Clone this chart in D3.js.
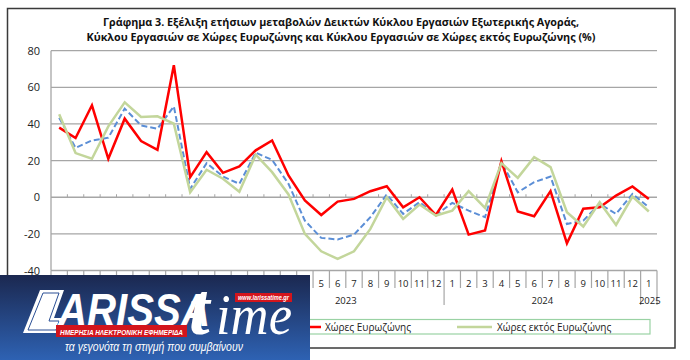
<!DOCTYPE html>
<html><head><meta charset="utf-8">
<script src="https://cdn.jsdelivr.net/npm/d3@7"></script>
<style>html,body{margin:0;padding:0;background:#fff;}svg{display:block;}</style>
</head><body>
<svg id="chart" width="690" height="360"></svg>
<script>
// ---- data ----
const monthLabels = ["1","2","3","4","5","6","7","8","9","10","11","12",
                     "1","2","3","4","5","6","7","8","9","10","11","12",
                     "1","2","3","4","5","6","7","8","9","10","11","12",
                     "1"];
const yearOfCat = [2022,2022,2022,2022,2022,2022,2022,2022,2022,2022,2022,2022,
                   2023,2023,2023,2023,2023,2023,2023,2023,2023,2023,2023,2023,
                   2024,2024,2024,2024,2024,2024,2024,2024,2024,2024,2024,2024,
                   2025];
const yearLabels = ["2022","2023","2024","2025"];
const yTicks = [-40,-20,0,20,40,60,80];
const seriesTotal = [43.4,27.0,31.0,32.5,48.4,39.2,37.4,49.6,4.6,18.6,11.3,7.3,
                     24.3,20.4,7.3,-12.8,-22.2,-23.1,-20.4,-10.9,1.5,-9.1,-2.7,-9.7,
                     -3.1,-7.3,-10.9,19.2,2.7,8.2,11.3,-14.6,-12.8,-3.6,-9.1,1.8,-5.5];
const seriesEuro = [38.0,32.3,50.2,21.0,42.9,30.7,25.9,72.1,11.0,24.6,13.3,16.8,
                    25.6,31.0,11.9,-1.8,-9.7,-2.4,-0.9,3.3,6.0,-5.5,0.0,-9.7,
                    4.2,-20.4,-18.2,19.7,-7.8,-10.4,3.3,-25.2,-6.3,-5.5,0.9,5.9,-0.9];
const seriesNonEuro = [45.3,24.1,21.0,38.7,51.8,43.8,44.2,40.2,2.7,15.0,10.1,3.0,
                       23.2,13.7,1.5,-20.0,-29.5,-33.7,-29.5,-17.3,0.0,-11.8,-4.0,-10.0,
                       -7.3,3.3,-5.8,18.6,10.6,21.9,16.4,-8.2,-16.0,-2.7,-15.1,0.4,-7.8];
const legendNames = ["Χώρες Ευρωζώνης","Χώρες εκτός Ευρωζώνης"];
const titleLines = ["Γράφημα 3. Εξέλιξη  ετήσιων μεταβολών Δεικτών Κύκλου Εργασιών Εξωτερικής Αγοράς,",
                    "Κύκλου Εργασιών σε Χώρες Ευρωζώνης και Κύκλου Εργασιών σε Χώρες εκτός Ευρωζώνης (%)"];

const svg = d3.select("#chart");
const font = "'Open Sans','Noto Sans','Liberation Sans',sans-serif";
const LOGO_RIGHT = 312; // overlay banner covers the lower-left corner

// outer frame
svg.append("rect").attr("x",7.5).attr("y",8.5).attr("width",667.5).attr("height",339.5)
  .attr("fill","#fff").attr("stroke","#3a3a3a").attr("stroke-width",1.5);

// title
const titleSpec = [{y:25.5,len:476},{y:40.5,len:509}];
titleLines.forEach((t,i)=>{
  svg.append("text").attr("x",341).attr("y",titleSpec[i].y).attr("text-anchor","middle")
    .attr("font-family",font).attr("font-weight","bold").attr("font-size","11px")
    .attr("fill","#111").attr("textLength",titleSpec[i].len).attr("lengthAdjust","spacingAndGlyphs")
    .text(t);
});

// scales
const cats = monthLabels.map((m,i)=>i);
const x = d3.scaleBand().domain(cats).range([51,657]).paddingInner(0).paddingOuter(0);
const y = d3.scaleLinear().domain([-40,80]).range([270.5,50.7]);
const cx = i => x(i) + x.bandwidth()/2;

// gridlines
svg.append("g").selectAll("line").data(yTicks).join("line")
  .attr("x1",51).attr("x2",657).attr("y1",d=>y(d)).attr("y2",d=>y(d))
  .attr("stroke","#a6a6a6").attr("stroke-width",1.3);

// left axis line
svg.append("line").attr("x1",51).attr("x2",51).attr("y1",y(80)).attr("y2",y(-40))
  .attr("stroke","#a6a6a6").attr("stroke-width",1.3);

// y labels
svg.append("g").selectAll("text").data(yTicks).join("text")
  .attr("x",40).attr("y",d=>y(d)+4).attr("text-anchor","end")
  .attr("font-family",font).attr("font-size","11px").attr("fill","#222")
  .text(d=>d);

// tick marks on zero line
const bounds = d3.range(cats.length+1).map(i=> i<cats.length ? x(i) : x(cats.length-1)+x.bandwidth());
svg.append("g").selectAll("line").data(bounds.slice(1,-1)).join("line")
  .attr("x1",d=>d).attr("x2",d=>d).attr("y1",y(0)-3).attr("y2",y(0))
  .attr("stroke","#a6a6a6").attr("stroke-width",1);

// category separator lines below plot
const yearStart = i => i===0 || yearOfCat[i]!==yearOfCat[i-1];
svg.append("g").selectAll("line").data(bounds).join("line")
  .attr("x1",d=>d).attr("x2",d=>d).attr("y1",y(-40))
  .attr("y2",(d,i)=> (i===0 || i===cats.length || yearStart(i)) ? 305 : 288)
  .attr("stroke","#a6a6a6").attr("stroke-width",1.2);

// month labels (those under the overlay banner are not visible in the reference)
svg.append("g").selectAll("text").data(cats.filter(i=>x(i) >= LOGO_RIGHT)).join("text")
  .attr("x",d=>cx(d)).attr("y",287).attr("text-anchor","middle")
  .attr("font-family",font).attr("font-size","9.5px").attr("fill","#222")
  .text(d=>monthLabels[d]);

// year labels
yearLabels.forEach(yr=>{
  const idx = cats.filter(i=>String(yearOfCat[i])===yr);
  const x0 = x(idx[0]), x1 = x(idx[idx.length-1])+x.bandwidth();
  const mid = (x0+x1)/2 + (idx.length===1?1:0);
  if (mid < LOGO_RIGHT) return;
  svg.append("text").attr("x",mid).attr("y",303.5).attr("text-anchor","middle")
    .attr("font-family",font).attr("font-size","9.5px").attr("fill","#222").text(yr);
});

// lines
const line = d3.line().x((d,i)=>cx(i)).y(d=>y(d));
svg.append("path").datum(seriesTotal).attr("d",line).attr("fill","none")
  .attr("stroke","#5b8ed6").attr("stroke-width",2).attr("stroke-dasharray","6,3");
svg.append("path").datum(seriesEuro).attr("d",line).attr("fill","none")
  .attr("stroke","#ff0000").attr("stroke-width",2.5).attr("stroke-linejoin","miter");
svg.append("path").datum(seriesNonEuro).attr("d",line).attr("fill","none")
  .attr("stroke","#c3d69b").attr("stroke-width",2.5);

// legend
svg.append("rect").attr("x",40.5).attr("y",319.5).attr("width",609.5).attr("height",14.5)
  .attr("fill","#fff").attr("stroke","#9ad2a4").attr("stroke-width",1.2);
const legItems = [{x1:286,x2:321,tx:325,color:"#ff0000"},{x1:457,x2:492,tx:497,color:"#c3d69b"}];
legItems.forEach((it,i)=>{
  svg.append("line").attr("x1",it.x1).attr("x2",it.x2).attr("y1",327).attr("y2",327)
    .attr("stroke",it.color).attr("stroke-width",2.5);
  svg.append("text").attr("x",it.tx).attr("y",330.5).attr("font-family",font)
    .attr("font-size","10px").attr("fill","#222").text(legendNames[i]);
});

// ---- overlay logo ----
const defs = svg.append("defs");
const grad = defs.append("linearGradient").attr("id","lg").attr("x1",0).attr("y1",0).attr("x2",0).attr("y2",1);
grad.append("stop").attr("offset","0%").attr("stop-color","#1b2850");
grad.append("stop").attr("offset","100%").attr("stop-color","#2e62b3");
const logo = svg.append("g");
logo.append("rect").attr("x",0).attr("y",275).attr("width",310).attr("height",85).attr("fill","url(#lg)");
// L shape
logo.append("polygon").attr("points","40,290 64,290 54,318 63,318 58,333 23,333").attr("fill","#fff");
logo.append("polygon").attr("points","43,293 59,293 49,321 59,321 56,330 28,330")
  .attr("fill","none").attr("stroke","#2a4f95").attr("stroke-width",1);
logo.append("text").attr("x",58).attr("y",326).attr("font-family","'Liberation Sans',Arial,sans-serif")
  .attr("font-weight","bold").attr("font-style","italic").attr("font-size","46px").attr("fill","#fff")
  .attr("textLength",152).attr("lengthAdjust","spacingAndGlyphs").text("ARISSA");
// red banner
logo.append("rect").attr("x",56).attr("y",325).attr("width",131).attr("height",12).attr("fill","#d3151c");
logo.append("text").attr("x",60).attr("y",334.5).attr("font-family","'Liberation Sans',Arial,sans-serif")
  .attr("font-weight","bold").attr("font-style","italic").attr("font-size","8px").attr("fill","#fff")
  .attr("textLength",123).attr("lengthAdjust","spacingAndGlyphs").text("ΗΜΕΡΗΣΙΑ ΗΛΕΚΤΡΟΝΙΚΗ ΕΦΗΜΕΡΙΔΑ");
// time
logo.append("text").attr("x",189).attr("y",334).attr("font-family","'Liberation Serif','DejaVu Serif',serif")
  .attr("font-style","italic").attr("font-weight","bold").attr("font-size","74px").attr("fill","#fff").text("t");
logo.append("text").attr("x",216).attr("y",334).attr("font-family","'Liberation Serif','DejaVu Serif',serif")
  .attr("font-style","italic").attr("font-size","58px").attr("fill","#fff")
  .attr("textLength",76).attr("lengthAdjust","spacingAndGlyphs").text("ime");
// url banner
logo.append("rect").attr("x",235).attr("y",293).attr("width",57).attr("height",9).attr("fill","#d3151c");
logo.append("text").attr("x",238).attr("y",300).attr("font-family","'Liberation Sans',Arial,sans-serif")
  .attr("font-weight","bold").attr("font-style","italic").attr("font-size","6.5px").attr("fill","#fff")
  .attr("textLength",51).attr("lengthAdjust","spacingAndGlyphs").text("www.larissatime.gr");
// tagline
logo.append("text").attr("x",65).attr("y",351).attr("font-family","'Liberation Sans',Arial,sans-serif")
  .attr("font-style","italic").attr("font-size","12px").attr("fill","#fff")
  .attr("textLength",178).attr("lengthAdjust","spacingAndGlyphs").text("τα γεγονότα τη στιγμή που συμβαίνουν");
</script>
</body></html>
